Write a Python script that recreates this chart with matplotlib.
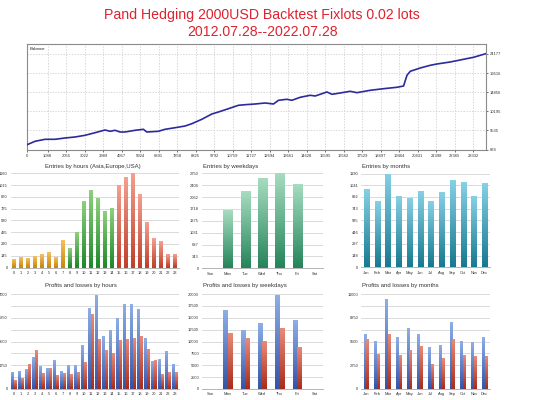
import numpy as np
import matplotlib
matplotlib.use('Agg')
import matplotlib.pyplot as plt
from matplotlib.colors import LinearSegmentedColormap

plt.rcParams['font.family'] = ['Liberation Sans', 'DejaVu Sans']

# ---------------- data ----------------
title_lines = ["Pand Hedging 2000USD Backtest Fixlots 0.02 lots", "2012.07.28--2022.07.28"]

bal_trades = [0, 434, 957, 1480, 2003, 2526, 3049, 3572, 4094, 4356, 4617, 4879, 5140, 5663,
              6097, 6275, 6882, 7232, 7755, 8278, 8628, 9151, 9674, 10019, 10542, 11065,
              11415, 11938, 12461, 12895, 13156, 13595, 13857, 14291, 14814, 15075, 15687,
              15948, 16382, 16905, 17256, 17951, 18647, 19347, 19693, 19870, 20043, 20566,
              21089, 21439, 22134, 22830, 23352, 23990]
bal_values = [2000, 2873, 3361, 3361, 3678, 3922, 4336, 4970, 5628, 5311, 5555, 5141, 5141, 5555,
              5799, 5141, 5311, 5799, 6189, 6603, 7164, 8237, 9529, 10017, 10821, 11650,
              11796, 11967, 12211, 11967, 12869, 13113, 12869, 13600, 14088, 13917, 14893,
              14332, 14649, 15063, 14722, 15307, 15697, 16038, 16355, 18964, 19939, 20744,
              21402, 21719, 22207, 22865, 23353, 24230]
bal_xticks = [0, 1088, 2055, 3022, 3989, 4957, 5924, 6891, 7858, 8825, 9792, 10759, 11727,
              12694, 13661, 14628, 15595, 16562, 17529, 18497, 19464, 20431, 21398, 22365, 23332]
bal_yticks = [874, 5535, 10195, 14856, 19516, 24177]

hours = [str(h) for h in range(24)]
hour_session = ['Asia'] * 8 + ['Europe'] * 7 + ['USA'] * 9
hour_entries = [90, 119, 107, 132, 152, 181, 111, 325, 222, 420, 810, 946, 843, 687, 720,
                1008, 1098, 1160, 897, 543, 350, 317, 152, 160]
hour_entry_ticks = [0, 145, 290, 435, 580, 725, 870, 1015, 1160]

weekdays = ["Sun", "Mon", "Tue", "Wed", "Thu", "Fri", "Sat"]
weekday_entries = [0, 1669, 2219, 2596, 2745, 2403, 0]
weekday_entry_ticks = [0, 343, 687, 1031, 1375, 1718, 2062, 2406, 2750]

months = ["Jan", "Feb", "Mar", "Apr", "May", "Jun", "Jul", "Aug", "Sep", "Oct", "Nov", "Dec"]
month_entries = [987, 827, 1182, 895, 865, 958, 827, 945, 1097, 1072, 895, 1055]
month_entry_ticks = [0, 148, 297, 446, 595, 743, 892, 1041, 1190]

hour_profits = [1179, 1302, 1400, 2333, 1646, 1498, 2088, 1302, 1695, 1695, 3242, 5895, 6926,
                3905, 4347, 5207, 6239, 6239, 5870, 3733, 2014, 2186, 2751, 1842]
hour_losses = [663, 737, 1842, 2800, 1130, 1523, 958, 1154, 1105, 1204, 1940, 5502, 3660,
               2825, 2628, 3537, 3684, 3733, 3905, 2874, 2088, 1105, 1204, 1204]
hour_pl_ticks = [0, 1750, 3500, 5250, 7000]

weekday_profits = [0, 16491, 12421, 13825, 19789, 14526, 0]
weekday_losses = [0, 11579, 10596, 9895, 12772, 8632, 0]
weekday_pl_ticks = [0, 2500, 5000, 7500, 10000, 12500, 15000, 17500, 20000]

month_profits = [6336, 5558, 10417, 6025, 7035, 6336, 4859, 5053, 7774, 5558, 5442, 6025]
month_losses = [5714, 4004, 6297, 3848, 4470, 4936, 2837, 3576, 5714, 3926, 3770, 3770]
month_pl_ticks = [0, 2750, 5500, 8250, 11000]

# ---------------- figure ----------------
W, H = 533, 400
fig = plt.figure(figsize=(W / 100, H / 100), dpi=100)
fig.patch.set_facecolor('white')


def ax_px(l, t, r, b):
    return fig.add_axes([l / W, 1 - b / H, (r - l) / W, (b - t) / H])


red_title = '#dd2230'
fig.text(262 / W, 1 - 15 / H, title_lines[0], color=red_title, fontsize=10.2, ha='center', va='center')
fig.text(263 / W, 1 - 32 / H, title_lines[1], color=red_title, fontsize=10.2, ha='center', va='center')

# ---- balance ----
axb = ax_px(26.7, 43.7, 486, 149.5)
axb.plot(bal_trades, bal_values, color='#2b2b9c', lw=1.2, zorder=3)
axb.set_xlim(0, 24000)
axb.set_ylim(874, 26664)
axb.set_xticks(bal_xticks)
axb.set_xticklabels([str(v) for v in bal_xticks])
axb.set_yticks(bal_yticks)
axb.set_yticklabels([str(v) for v in bal_yticks])
axb.yaxis.tick_right()
axb.tick_params(axis='both', labelsize=3.0, length=1.5, width=0.5, pad=1.5, colors='#333333')
axb.grid(True, color='#c8c8c8', lw=0.5, ls=(0, (2, 2)))
for s in axb.spines.values():
    s.set_color('#8a8a8a')
    s.set_linewidth(0.8)
axb.text(0.006, 0.97, 'Balance', transform=axb.transAxes, fontsize=3.2, va='top', ha='left', color='#222222')


def grad_bars(ax, bars, c_top, c_bot):
    cmap = LinearSegmentedColormap.from_list('g', [c_bot, c_top])
    grad = np.linspace(0, 1, 64).reshape(-1, 1)
    for b in bars:
        h = b.get_height()
        if h <= 0:
            continue
        x0 = b.get_x()
        w = b.get_width()
        ax.imshow(grad, extent=(x0, x0 + w, 0, h), origin='lower', cmap=cmap,
                  aspect='auto', zorder=3, interpolation='bilinear')


def style_panel(ax, n, yticks, minor=None, xlabels=None):
    ax.set_xlim(-0.5, n - 0.5)
    ax.set_ylim(0, yticks[-1])
    ax.set_yticks(yticks)
    ax.set_yticklabels([str(v) for v in yticks])
    if minor is not None:
        ax.set_yticks(minor, minor=True)
    ax.set_xticks(range(n))
    ax.set_xticklabels(xlabels)
    ax.grid(True, axis='y', which='both', color='#d4d4d4', lw=0.6)
    ax.set_axisbelow(True)
    for k in ['top', 'right', 'left']:
        ax.spines[k].set_visible(False)
    ax.spines['bottom'].set_color('#a8a8a8')
    ax.spines['bottom'].set_linewidth(0.6)
    ax.tick_params(axis='both', which='both', length=0, labelsize=2.9, colors='#333333')
    ax.tick_params(axis='y', pad=2)
    ax.tick_params(axis='x', pad=2.5)
    ax.set_facecolor('none')


def panel_title(x, y, s):
    fig.text(x / W, 1 - y / H, s, fontsize=4.3, ha='left', va='center', color='#333333')


# ---- entries by hours ----
ax1 = ax_px(10.5, 173.3, 178.5, 267.5)
session_colors = {'Asia': ('#f4c060', '#c98a10'),
                  'Europe': ('#8fd07c', '#1f8a2a'),
                  'USA': ('#f4a090', '#c0402c')}
x = np.arange(len(hours))
for sess in ['Asia', 'Europe', 'USA']:
    idx = [i for i, s in enumerate(hour_session) if s == sess]
    bars = ax1.bar([x[i] for i in idx], [hour_entries[i] for i in idx], width=0.55,
                   color=session_colors[sess][1], zorder=2)
    grad_bars(ax1, bars, *session_colors[sess])
style_panel(ax1, 24, hour_entry_ticks, xlabels=hours)
panel_title(45, 166.5, 'Entries by hours (Asia,Europe,USA)')

# ---- entries by weekdays ----
ax2 = ax_px(201.7, 173.3, 323, 268.3)
bars = ax2.bar(np.arange(7), weekday_entries, width=0.52, color='#3a9a6a', zorder=2)
grad_bars(ax2, bars, '#a6dcc0', '#25845a')
style_panel(ax2, 7, weekday_entry_ticks, xlabels=weekdays)
panel_title(203, 166.5, 'Entries by weekdays')

# ---- entries by months ----
ax3 = ax_px(361, 173.5, 490, 267.3)
bars = ax3.bar(np.arange(12), month_entries, width=0.48, color='#3aa0b8', zorder=2)
grad_bars(ax3, bars, '#86d0e4', '#177990')
style_panel(ax3, 12, month_entry_ticks, xlabels=months)
panel_title(362, 166.5, 'Entries by months')

blue_c = ('#8eaee6', '#3454a8')
red_c = ('#e88a78', '#a82c1c')

# ---- profits and losses by hours ----
ax4 = ax_px(10.5, 294, 178.5, 389)
w = 0.38
b1 = ax4.bar(x - w / 2, hour_profits, width=w, color=blue_c[1], zorder=2)
b2 = ax4.bar(x + w / 2, hour_losses, width=w, color=red_c[1], zorder=2)
grad_bars(ax4, b1, *blue_c)
grad_bars(ax4, b2, *red_c)
style_panel(ax4, 24, hour_pl_ticks, minor=[875, 2625, 4375, 6125], xlabels=hours)
panel_title(45, 286, 'Profits and losses by hours')

# ---- profits and losses by weekdays ----
ax5 = ax_px(201.7, 294, 323, 389)
xw = np.arange(7)
w = 0.26
b1 = ax5.bar(xw - w / 2, weekday_profits, width=w, color=blue_c[1], zorder=2)
b2 = ax5.bar(xw + w / 2, weekday_losses, width=w, color=red_c[1], zorder=2)
grad_bars(ax5, b1, *blue_c)
grad_bars(ax5, b2, *red_c)
style_panel(ax5, 7, weekday_pl_ticks, xlabels=weekdays)
panel_title(203, 286, 'Profits and losses by weekdays')

# ---- profits and losses by months ----
ax6 = ax_px(361, 294.3, 490, 389)
xm = np.arange(12)
w = 0.25
b1 = ax6.bar(xm - w / 2, month_profits, width=w, color=blue_c[1], zorder=2)
b2 = ax6.bar(xm + w / 2, month_losses, width=w, color=red_c[1], zorder=2)
grad_bars(ax6, b1, *blue_c)
grad_bars(ax6, b2, *red_c)
style_panel(ax6, 12, month_pl_ticks, minor=[1375, 4125, 6875, 9625], xlabels=months)
panel_title(362, 286, 'Profits and losses by months')

for a in [ax1, ax2, ax3, ax4, ax5, ax6]:
    a.set_xlim(-0.5, len(a.get_xticks()) - 0.5)

fig.savefig('out.png', dpi=100, facecolor='white')
